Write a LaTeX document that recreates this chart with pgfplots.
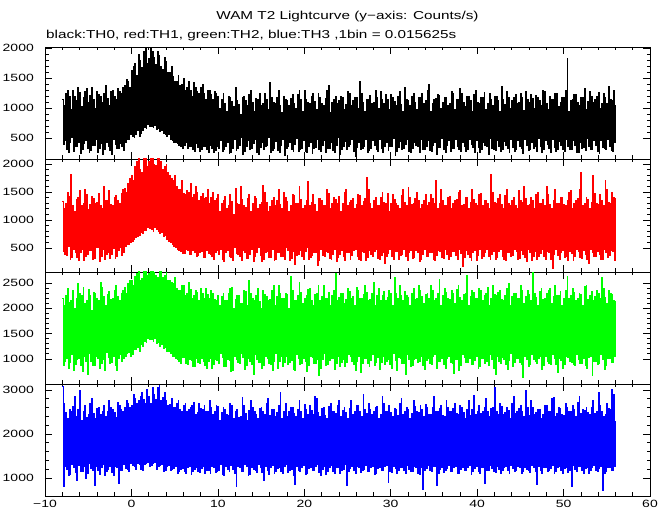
\documentclass[border=0pt]{standalone}
\usepackage{fontspec}
\setmainfont{Liberation Sans}[FakeStretch=1.33]
\usepackage{pgfplots}
\usepackage{pgfplotstable}
\pgfplotsset{compat=1.18}
\pgfplotstableread{
x b r g u
-8.0 1150 1330 2190 3080
-7.9 390 430 860 800
-7.8 1050 1200 2050 2700
-7.7 450 380 950 1250
-7.6 1240 1290 2260 2480
-7.5 310 360 1010 1190
-7.4 1300 1500 2400 2350
-7.3 260 520 820 1050
-7.2 1190 1420 2120 2560
-7.1 420 300 920 1080
-7.0 980 1820 2150 2500
-6.9 500 330 1080 1300
-6.8 1300 1250 2350 2620
-6.7 280 470 780 1230
-6.6 1200 1150 2000 2850
-6.5 350 420 880 1120
-6.4 1120 1360 2200 2400
-6.3 350 330 980 950
-6.2 1350 1400 2480 2550
-6.1 420 280 1000 1280
-6.0 1260 1520 2290 2980
-5.9 240 410 870 1150
-5.8 1020 1250 2250 2300
-5.7 300 480 760 1150
-5.6 1180 1300 2420 2520
-5.5 400 280 1050 1260
-5.4 1280 1550 2100 2650
-5.3 460 350 950 1000
-5.2 1330 1450 2160 2380
-5.1 330 380 690 1100
-5.0 1100 1180 2380 2450
-4.9 250 450 1100 1320
-4.8 1210 1270 2250 2700
-4.7 290 450 940 1210
-4.6 1340 1420 1950 2800
-4.5 380 300 870 1180
-4.4 1150 1380 2310 2460
-4.3 370 310 860 820
-4.2 1000 1300 2300 2350
-4.1 480 500 1050 1250
-4.0 1280 1320 2190 2580
-3.9 260 500 1000 1170
-3.8 1230 1480 2150 2600
-3.7 320 260 820 1080
-3.6 1190 1260 2500 2440
-3.5 410 350 900 1240
-3.4 1100 1200 2420 2500
-3.3 220 470 980 1300
-3.2 1240 1600 2230 2650
-3.1 300 290 780 1050
-3.0 1380 1350 2050 2400
-2.9 430 380 1120 1150
-2.8 1160 1340 2280 2520
-2.7 350 420 1030 1200
-2.6 1050 1520 2330 2750
-2.5 290 320 900 1260
-2.4 1270 1280 2170 2600
-2.3 230 380 920 1130
-2.2 1300 1260 2200 2550
-2.1 470 490 1050 1050
-2.0 1200 1410 2360 2480
-1.9 390 320 860 1250
-1.8 1150 1430 2450 2380
-1.7 330 350 780 1230
-1.6 1320 1350 2240 2720
-1.5 320 460 1010 880
-1.4 1280 1300 2150 2650
-1.3 400 500 1090 1180
-1.2 1250 1480 2300 2550
-1.1 360 370 950 1180
-1.0 1350 1550 2350 2500
-0.9 290 420 1000 1300
-0.8 1380 1560 2420 2600
-0.7 430 520 1050 1220
-0.6 1480 1500 2300 2750
-0.5 480 560 1100 1200
-0.4 1450 1650 2480 2700
-0.3 480 560 1120 1150
-0.2 1350 1750 2550 2600
-0.1 560 600 1050 1320
0.0 1620 1800 2550 2650
0.1 520 620 1080 1280
0.2 1700 1700 2450 2900
0.3 500 650 1180 1250
0.4 1750 1950 2620 2800
0.5 560 680 1180 1200
0.6 1550 2050 2680 2700
0.7 620 700 1220 1330
0.8 1900 2100 2720 2750
0.9 530 720 1150 1300
1.0 1800 1900 2550 2850
1.1 580 780 1280 1200
1.2 1680 1850 2580 2950
1.3 620 760 1250 1180
1.4 1950 2100 2720 2780
1.5 680 820 1350 1300
1.6 2000 2100 2720 2700
1.7 650 820 1320 1330
1.8 1750 1950 2650 3000
1.9 720 870 1400 1350
2.0 1820 2050 2680 2850
2.1 700 850 1380 1250
2.2 2000 2100 2720 2700
2.3 690 830 1380 1280
2.4 1950 2100 2720 3050
2.5 680 800 1350 1320
2.6 1850 2000 2700 2900
2.7 710 860 1400 1350
2.8 1720 1980 2650 2780
2.9 640 830 1300 1200
3.0 1950 2100 2600 3050
3.1 650 800 1320 1250
3.2 1880 2100 2720 3100
3.3 600 760 1250 1280
3.4 1700 2050 2720 2750
3.5 620 780 1280 1300
3.6 1650 1900 2600 2820
3.7 570 700 1200 1150
3.8 1850 1950 2650 2950
3.9 560 720 1220 1180
4.0 1780 2000 2700 2750
4.1 520 650 1150 1250
4.2 1600 1850 2550 2650
4.3 550 620 1150 1280
4.4 1600 1800 2550 2680
4.5 480 600 1100 1180
4.6 1700 1750 2500 2800
4.7 450 560 1050 1200
4.8 1520 1700 2480 2600
4.9 430 520 1050 1220
5.0 1450 1800 2600 2600
5.1 420 500 1000 1250
5.2 1450 1600 2400 2700
5.3 400 470 980 1100
5.4 1550 1550 2350 2750
5.5 380 450 950 1150
5.6 1380 1550 2350 2550
5.7 350 430 900 1200
5.8 1400 1700 2450 2500
5.9 330 400 1030 1220
6.0 1500 1480 2450 2650
6.1 380 400 1020 1150
6.2 1300 1450 2250 2700
6.3 420 480 900 1100
6.4 1350 1520 2300 2500
6.5 320 450 880 1240
6.6 1450 1500 2500 2550
6.7 350 380 980 1260
6.8 1300 1650 2380 2600
6.9 360 380 960 1080
7.0 1200 1400 2200 2650
7.1 300 450 850 1150
7.2 1420 1450 2250 2720
7.3 280 420 850 1200
7.4 1350 1600 2350 2450
7.5 400 350 1000 1230
7.6 1280 1500 2320 2480
7.7 340 360 930 1150
7.8 1250 1350 2150 2700
7.9 280 420 900 1120
8.0 1350 1420 2400 2580
8.1 300 440 1000 1220
8.2 1400 1480 2300 2550
8.3 360 330 950 1250
8.4 1250 1380 2200 2650
8.5 350 330 870 1100
8.6 1150 1400 2400 2500
8.7 300 450 820 1180
8.8 1300 1550 2280 2520
8.9 260 400 950 1180
9.0 1300 1300 2200 2750
9.1 380 380 1000 1100
9.2 1220 1400 2350 2600
9.3 330 350 820 1250
9.4 1150 1500 2300 2450
9.5 250 300 880 1230
9.6 1280 1350 2180 2500
9.7 290 420 980 1120
9.8 1250 1380 2150 2650
9.9 350 450 960 1150
10.0 1200 1450 2250 2620
10.1 320 380 900 1180
10.2 1000 1150 2050 2300
10.3 450 480 1100 1300
10.4 1150 1300 2230 2480
10.5 270 300 1020 1090
10.6 1250 1350 2300 2600
10.7 300 250 850 1050
10.8 1080 1420 2150 2560
10.9 360 420 850 1250
11.0 950 1200 2150 2450
11.1 420 450 980 1200
11.2 1190 1250 2300 2420
11.3 240 350 960 1140
11.4 1180 1450 2400 2700
11.5 250 330 760 1280
11.6 1110 1330 2420 2650
11.7 330 280 780 1200
11.8 1020 1100 2000 2350
11.9 480 500 1050 1100
12.0 1350 1560 2180 2500
12.1 290 400 990 800
12.2 1130 1300 2250 2550
12.3 330 380 920 1250
12.4 1060 1280 2250 2380
12.5 380 340 900 1230
12.6 900 1600 2100 2400
12.7 500 280 1100 1150
12.8 1170 1360 2100 2820
12.9 220 460 1030 1150
13.0 1200 1250 2350 2650
13.1 280 420 800 1300
13.2 1130 1220 2330 2470
13.3 350 310 870 1260
13.4 1050 1380 2050 2300
13.5 450 320 1000 1050
13.6 1220 1450 2550 2540
13.7 300 380 950 1080
13.8 1300 1150 2300 2750
13.9 320 480 880 1230
14.0 1090 1300 2200 2600
14.1 400 250 700 1190
14.2 950 1420 2150 2500
14.3 470 350 1080 1180
14.4 1160 1380 2260 2450
14.5 260 420 980 1120
14.6 1150 1200 2400 2350
14.7 230 500 930 1300
14.8 1250 1270 2140 2580
14.9 340 360 920 1240
15.0 1050 1320 2000 2600
15.1 420 260 820 1120
15.2 1070 1620 2350 2500
15.3 310 300 860 950
15.4 1250 1500 2280 2450
15.5 350 420 1050 1250
15.6 1140 1310 2230 2700
15.7 380 440 1010 1170
15.8 980 1150 2150 2800
15.9 500 330 900 1080
16.0 1420 1240 2170 2430
16.1 250 330 890 1230
16.2 1180 1350 2350 2550
16.3 290 480 780 1280
16.4 1100 1400 2460 2550
16.5 330 270 940 1100
16.6 1080 1250 2050 2400
16.7 440 300 1100 1150
16.8 1180 1350 2240 2490
16.9 290 410 820 1210
17.0 1300 1550 2450 2650
17.1 260 420 950 1230
17.2 1050 1280 2300 2950
17.3 370 350 1040 1150
17.4 920 1200 2200 2350
17.5 480 350 850 1100
17.6 1200 1500 2190 2520
17.7 200 290 930 1260
17.8 1150 1400 2300 2700
17.9 330 500 1050 1300
18.0 1120 1330 2270 2400
18.1 350 450 880 1130
18.2 1050 1150 2000 2500
18.3 420 280 920 1180
18.4 1160 1260 2620 2610
18.5 300 320 970 1200
18.6 1220 1450 2350 2600
18.7 280 430 800 1050
18.8 1080 1440 2160 2470
18.9 390 200 780 850
19.0 1000 1300 2150 2400
19.1 490 360 1080 1250
19.2 1230 1300 2250 2560
19.3 270 390 1000 1180
19.4 1300 1600 2500 2750
19.5 300 450 880 1150
19.6 1140 1370 2310 2500
19.7 320 340 900 1240
19.8 950 1200 2100 2350
19.9 450 300 1000 1280
20.0 1300 1250 2200 2680
20.1 280 430 950 1090
20.2 1150 1350 2250 2550
20.3 250 500 750 1100
20.4 1090 1680 2380 2440
20.5 360 300 860 1210
20.6 1080 1250 2400 2650
20.7 430 330 1050 1230
20.8 1190 1320 2150 2530
20.9 240 370 1030 1160
21.0 1250 1450 2050 2450
21.1 320 420 900 1180
21.2 1110 1280 2280 2850
21.3 340 410 910 1250
21.4 980 1150 2300 2800
21.5 480 180 980 1300
21.6 1250 1390 2450 2490
21.7 310 280 680 1120
21.8 1180 1380 2150 2400
21.9 280 470 820 1050
22.0 1070 1340 2230 2570
22.1 380 360 990 1200
22.2 1050 1250 2450 2600
22.3 460 350 1100 1250
22.4 1160 1250 2190 2420
22.5 260 440 870 1080
22.6 1300 1550 2200 2350
22.7 330 420 880 1150
22.8 1380 1470 2320 2620
22.9 330 320 960 1240
23.0 920 1200 2050 2700
23.1 420 300 1000 1280
23.2 1100 1300 2260 2510
23.3 290 390 1010 1150
23.4 1150 1400 2350 2500
23.5 260 480 790 1100
23.6 1200 1360 2680 2460
23.7 370 250 900 1230
23.8 1080 1300 2150 2650
23.9 500 330 1050 1230
24.0 1130 1420 2210 2750
24.1 220 380 840 1100
24.2 1200 1150 2300 2400
24.3 300 450 920 1180
24.4 1180 1290 2290 2530
24.5 350 340 980 1190
24.6 980 1500 2100 2600
24.7 440 280 850 1300
24.8 1060 1550 2170 2480
24.9 310 420 920 820
25.0 1280 1250 2400 2350
25.1 350 420 1080 1150
25.2 1240 1310 2340 2580
25.3 390 300 1040 1210
25.4 1050 1350 2200 2750
25.5 470 360 950 1250
25.6 1120 1380 2230 2440
25.7 280 460 880 1160
25.8 1180 1200 2050 2500
25.9 190 480 780 1100
26.0 1170 1270 2420 2650
26.1 340 350 950 1250
26.2 1000 1450 2350 2650
26.3 420 300 1050 1230
26.4 1450 1440 2200 2510
26.5 300 270 730 1120
26.6 1250 1250 2200 2400
26.7 330 430 900 1180
26.8 1090 1330 2270 2900
26.9 360 410 1000 1200
27.0 950 1380 2450 2550
27.1 480 280 1000 1280
27.2 1150 1760 2310 2470
27.3 250 330 900 1140
27.4 1150 1550 2150 2700
27.5 290 450 850 1150
27.6 1210 1290 2180 2560
27.7 330 380 970 1230
27.8 1080 1200 2300 2450
27.9 450 350 1080 1250
28.0 1100 1350 2500 2500
28.1 380 440 860 1090
28.2 1300 1400 2050 2600
28.3 310 480 920 1100
28.4 1180 1260 2250 2620
28.5 270 310 1020 1210
28.6 1000 1250 2400 2350
28.7 470 300 800 1230
28.8 1280 1400 2160 2450
28.9 320 360 930 1170
29.0 1150 1500 2250 2850
29.1 260 420 1050 1180
29.2 1070 1320 2330 2700
29.3 360 230 880 1250
29.4 1230 1300 2150 2500
29.5 430 350 950 1280
29.6 1140 1480 2210 2520
29.7 290 400 990 900
29.8 970 1150 2350 2650
29.9 350 480 880 1150
30.0 1220 1300 2290 2480
30.1 350 350 820 1130
30.2 1180 1450 2050 2400
30.3 490 300 1100 1250
30.4 1110 1370 2600 2590
30.5 210 430 960 1220
30.6 1050 1300 2300 2550
30.7 280 430 780 1100
30.8 1190 1250 2190 2430
30.9 340 290 1030 1180
31.0 1280 1200 2450 2700
31.1 440 360 1000 1230
31.2 1060 1430 2260 2800
31.3 310 380 900 1240
31.4 950 1550 2150 2450
31.5 330 470 900 1180
31.6 1350 1310 2340 2510
31.7 390 340 690 1100
31.8 1150 1250 2250 2600
31.9 470 280 1080 1280
32.0 1130 1580 2220 2560
32.1 280 420 980 1200
32.2 1050 1400 2050 2350
32.3 250 450 850 1150
32.4 1200 1280 2300 2470
32.5 330 310 870 1150
32.6 1250 1300 2400 2750
32.7 420 330 980 1250
32.8 1090 1390 2170 2620
32.9 370 450 1010 1230
33.0 980 1500 2200 2500
33.1 350 420 920 1100
33.2 1170 1340 2450 2490
33.3 260 260 940 1090
33.4 1180 1200 2350 2650
33.5 480 300 1050 1230
33.6 1240 1270 2240 2550
33.7 300 390 860 750
33.8 1080 1350 2100 2400
33.9 300 480 800 1180
34.0 1120 1450 2280 2680
34.1 350 340 970 1210
34.2 1300 1250 2300 2600
34.3 450 350 1000 1280
34.4 1400 1320 2200 2440
34.5 290 410 900 1160
34.6 950 1450 2450 2450
34.7 280 420 880 1150
34.8 1080 1380 2350 2600
34.9 380 300 1040 1250
35.0 1150 1300 2150 2850
35.1 430 280 1080 1250
35.2 1160 1700 2190 2500
35.3 230 370 820 830
35.4 1230 1200 2300 2500
35.5 340 450 950 1100
35.6 1210 1290 2560 2570
35.7 340 430 950 1190
35.8 1000 1550 2050 2650
35.9 490 330 1000 1230
36.0 1100 1350 2260 2430
36.1 310 320 880 1130
36.2 1180 1250 2400 2400
36.3 260 480 820 1180
36.4 1180 1260 2320 2750
36.5 370 380 1000 1220
36.6 1050 1400 2200 2600
36.7 450 300 1050 1280
36.8 1070 1420 2170 2510
36.9 280 350 920 1150
37.0 1280 1200 2350 2500
37.1 320 430 900 1150
37.2 1250 1300 2290 2580
37.3 330 440 710 1240
37.4 970 1350 2100 2700
37.5 470 360 980 1250
37.6 1140 1370 2380 2460
37.7 360 290 990 1100
37.8 1150 1500 2450 2450
37.9 300 470 780 1100
38.0 1320 1520 2210 2640
38.1 270 400 870 1200
38.2 1250 1250 2150 2600
38.3 430 170 1080 1230
38.4 1090 1280 2270 2490
38.5 350 330 1020 1170
38.6 1020 1400 2300 2350
38.7 280 450 920 1180
38.8 1190 1400 2640 2550
38.9 300 380 930 1230
39.0 1200 1200 2050 2750
39.1 480 330 1000 1280
39.2 1130 1310 2230 2430
39.3 390 270 880 1090
39.4 950 1550 2350 2550
39.5 340 420 880 1150
39.6 1220 1360 2310 2880
39.7 250 450 960 1210
39.8 1300 1300 2200 2450
39.9 450 280 1050 1250
40.0 1100 1250 2190 2520
40.1 340 360 820 1150
40.2 1080 1450 2400 2650
40.3 260 470 850 1100
40.4 1170 1480 2350 2470
40.5 300 310 1000 1240
40.6 1180 1250 2150 2500
40.7 420 350 1000 1230
40.8 1260 1340 2250 2600
40.9 370 420 910 880
41.0 980 1350 2300 2800
41.1 350 480 950 1180
41.2 1080 1290 2420 2500
41.3 220 350 870 1180
41.4 1250 1200 2050 2400
41.5 490 300 1080 1280
41.6 1150 1820 2200 2570
41.7 330 390 990 1220
41.8 1050 1500 2450 2600
41.9 300 430 820 1150
42.0 1200 1320 2280 3050
42.1 290 300 700 1130
42.2 1200 1300 2250 2500
42.3 460 330 1050 1250
42.4 1120 1380 2320 2450
42.5 360 430 940 1200
42.6 950 1450 2350 2700
42.7 280 480 900 1100
42.8 1360 1270 2170 2620
42.9 310 340 1030 1160
43.0 1150 1200 2150 2450
43.1 440 300 980 1230
43.2 1060 1430 2260 2490
43.3 380 280 890 1250
43.4 1280 1550 2400 2600
43.5 330 420 800 1180
43.6 1180 1300 2480 2540
43.7 260 410 960 1100
43.8 1000 1250 2050 2350
43.9 480 350 1100 1280
44.0 1130 1350 2230 2700
44.1 340 360 850 1210
44.2 1180 1400 2300 2850
44.3 270 470 920 1150
44.4 1230 1260 2300 2460
44.5 300 440 1010 1170
44.6 1080 1200 2200 2500
44.7 450 300 1000 1250
44.8 1100 1530 2190 2580
44.9 350 320 920 1230
45.0 1250 1350 2450 2650
45.1 320 450 880 1100
45.2 1170 1310 2350 2500
45.3 240 380 640 1140
45.4 960 1600 2100 2400
45.5 470 330 1050 1230
45.6 1280 1390 2240 2980
45.7 370 250 980 1200
45.8 1150 1250 2350 2600
45.9 290 480 850 1180
46.0 1090 1280 2270 2430
46.1 310 420 880 1120
46.2 1230 1400 2150 2750
46.3 430 280 1080 1280
46.4 1160 1340 2700 2600
46.5 330 350 990 1240
46.6 1000 1200 2300 2450
46.7 350 430 950 1150
46.8 1210 1460 2210 2480
46.9 280 300 910 850
47.0 1180 1500 2050 2550
47.1 490 350 1000 1250
47.2 1120 1290 2330 2560
47.3 360 400 1040 1180
47.4 1050 1300 2400 2350
47.5 260 470 800 1100
47.6 1300 1370 2180 2450
47.7 300 340 860 1230
47.8 1280 1250 2200 2650
47.9 450 300 1050 1230
48.0 1070 1600 2290 2640
48.1 390 430 950 1150
48.2 980 1450 2350 2500
48.3 330 420 900 1180
48.4 1190 1270 2400 2500
48.5 250 290 890 1210
48.6 1150 1200 2100 2800
48.7 470 140 1080 1280
48.8 1140 1350 2230 2820
48.9 340 380 1000 1100
49.0 1250 1550 2450 2400
49.1 280 480 880 1150
49.2 1250 1300 2260 2470
49.3 310 360 730 1240
49.4 1020 1300 2250 2600
49.5 440 300 1000 1250
49.6 1100 1410 2340 2580
49.7 370 410 970 1170
49.8 1180 1400 2050 2450
49.9 310 450 820 1100
50.0 1180 1280 2190 2430
50.1 280 330 880 1220
50.2 1300 1250 2350 2700
50.3 480 350 1050 1230
50.4 1820 1340 2620 2600
50.5 350 270 1020 1130
50.6 950 1500 2200 2500
50.7 300 430 950 1180
50.8 1130 1520 2250 2500
50.9 300 400 930 800
51.0 1150 1200 2400 2650
51.1 450 280 880 1280
51.2 1220 1300 2310 2550
51.3 380 350 860 1200
51.4 1230 1350 2150 2400
51.5 260 470 1080 1150
51.6 1090 1380 2200 2720
51.7 260 440 990 1250
51.8 1050 1550 2300 2850
51.9 430 330 900 1250
52.0 1170 1840 2280 2460
52.1 330 310 910 1160
52.2 1180 1250 2050 2550
52.3 340 450 1000 1100
52.4 1330 1290 2440 2530
52.5 290 380 870 1210
52.6 980 1400 2450 2600
52.7 490 300 820 1230
52.8 1110 1360 2170 2490
52.9 360 230 1030 1100
53.0 1280 1200 2250 2450
53.1 300 480 1050 1180
53.2 1200 1310 2330 2610
53.3 310 420 680 1240
53.4 1100 1800 2150 2750
53.5 450 350 950 1280
53.6 1150 1470 2240 2470
53.7 370 350 950 1180
53.8 1200 1300 2350 2500
53.9 270 430 880 1150
54.0 1260 1280 2290 2950
54.1 240 390 900 1220
54.2 1000 1450 2200 2650
54.3 460 300 1080 1250
54.4 1080 1350 2600 2520
54.5 340 300 980 720
54.6 1250 1250 2400 2400
54.7 330 470 800 1100
54.8 1180 1700 2210 2440
54.9 300 410 860 1150
55.0 1080 1550 2100 2700
55.1 480 330 1000 1230
55.2 1360 1320 2350 2580
55.3 350 360 1000 1230
55.4 1150 1300 2300 2550
55.5 290 450 920 1180
55.6 1120 1500 2270 3000
55.7 280 440 920 1180
55.8 1300 1400 2150 2900
55.9 420 280 1050 1250
56.0 1050 1400 2150 2300
}\lc
\pgfplotsset{
  panel/.style={
    scale only axis, width=605bp, anchor=south west,
    xmin=-10, xmax=60, xtick={-10,0,10,20,30,40,50,60}, minor x tick num=4,
    tick align=inside, major tick length=7bp, minor tick length=3.5bp,
    axis line style={line width=0.8bp},
    every tick/.append style={line width=0.7bp, black},
    tick label style={font=\fontsize{10.5bp}{12bp}\selectfont},
    yticklabel style={inner sep=0pt, anchor=east, xshift=-11bp},
    xticklabel style={inner sep=0pt, anchor=north, yshift=-4bp},
    minor y tick num=4,
  },
  curve/.style={const plot, line width=1.0bp},
}
\begin{document}
\begin{tikzpicture}
\path[use as bounding box] (0,0) rectangle (672bp,515bp);
\node[anchor=base, font=\fontsize{11.5bp}{13bp}\selectfont] at (347.5bp,495bp) {WAM T2 Lightcurve (y−axis: Counts/s)};
\node[anchor=base west, inner sep=0pt, font=\fontsize{11.5bp}{13bp}\selectfont] at (46bp,476.5bp) {black:TH0, red:TH1, green:TH2, blue:TH3 ,1bin = 0.015625s};
\begin{axis}[panel, at={(45bp,356bp)}, height=112bp, ymin=150, ymax=2017,
  ytick={500,1000,1500,2000}, yticklabels={500,1000,1500,2000}, xticklabels={}]
\addplot[curve, color=black] table[x=x, y=b]{\lc};
\end{axis}
\begin{axis}[panel, at={(45bp,243bp)}, height=113bp, ymin=70, ymax=2090,
  ytick={500,1000,1500,2000}, yticklabels={500,1000,1500,2000}, xticklabels={}]
\addplot[curve, color={rgb,255:red,255;green,0;blue,0}] table[x=x, y=r]{\lc};
\end{axis}
\begin{axis}[panel, at={(45bp,131bp)}, height=112bp, ymin=504, ymax=2717,
  ytick={1000,1500,2000,2500}, yticklabels={1000,1500,2000,2500}, xticklabels={}]
\addplot[curve, color={rgb,255:red,0;green,255;blue,0}] table[x=x, y=g]{\lc};
\end{axis}
\begin{axis}[panel, at={(45bp,19bp)}, height=112bp, ymin=591, ymax=3136,
  ytick={1000,2000,3000}, yticklabels={1000,2000,3000},
  xticklabels={−10,0,10,20,30,40,50,60}]
\addplot[curve, color={rgb,255:red,0;green,0;blue,255}] table[x=x, y=u]{\lc};
\end{axis}
\end{tikzpicture}
\end{document}
